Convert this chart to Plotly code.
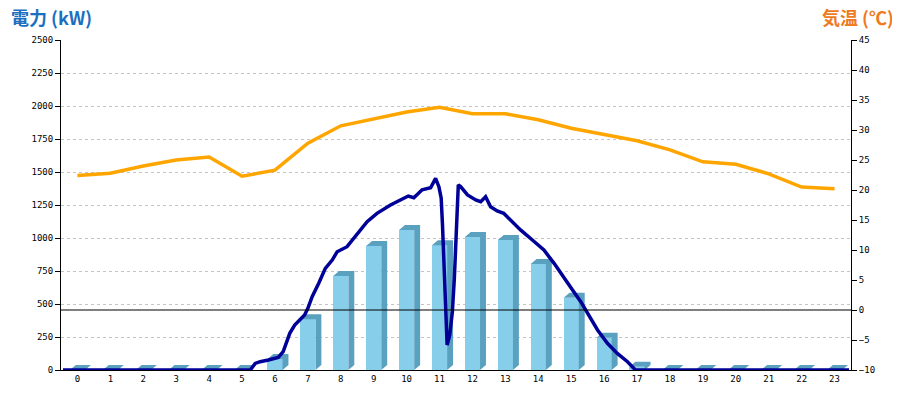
import plotly.graph_objects as go

# ---- data ----
hours = list(range(24))
hour_labels = [str(h) for h in hours]
energy_kwh = [0, 0, 0, 0, 0, 0, 83, 385, 712, 939, 1061, 945,
              1007, 985, 803, 548, 245, 25, 0, 0, 0, 0, 0, 0]
temp_c = [22.4, 22.8, 24.0, 25.0, 25.5, 22.3, 23.3, 27.8, 30.7, 31.8, 33.0, 33.8,
          32.7, 32.7, 31.7, 30.3, 29.3, 28.2, 26.7, 24.7, 24.3, 22.7, 20.5, 20.2]
power_t = [-0.44, 5.25, 5.40, 5.55, 5.80, 6.10, 6.25, 6.35, 6.45, 6.60, 6.80, 6.90,
           7.00, 7.13, 7.33, 7.53, 7.74, 7.89, 8.19, 8.50, 8.80, 9.10, 9.51, 9.81,
           10.05, 10.22, 10.47, 10.73, 10.88, 10.98, 11.05, 11.09, 11.13, 11.16, 11.20,
           11.23, 11.31, 11.39, 11.45, 11.51, 11.54, 11.57, 11.64, 11.85, 12.10, 12.25,
           12.40, 12.55, 12.75, 12.95, 13.10, 13.46, 13.82, 14.17, 14.48, 14.78, 15.04,
           15.29, 15.54, 15.80, 16.10, 16.40, 16.71, 16.91, 16.95, 23.44]
power_kw = [0, 0, 50, 63, 76, 96, 139, 202, 278, 341, 392, 417,
            467, 556, 657, 770, 833, 896, 934, 1035, 1124, 1187, 1250, 1288,
            1318, 1305, 1365, 1381, 1452, 1389, 1301, 1098, 846, 644, 392,
            189, 265, 442, 694, 998, 1225, 1402, 1389, 1326, 1288, 1275,
            1313, 1237, 1205, 1187, 1149, 1061, 985, 909, 808, 694, 606,
            518, 417, 303, 202, 126, 63, 5, 0, 0]
x_range = [-0.5, 23.5]
zero_c = 0

# ---- 3D bar styling ----
BAR_W = 0.46   # front face width (category units)
DX = 0.18      # depth offset (category units)
DY = 38        # depth offset (kW)
FRONT = "#87CEEB"
SIDE = "#5AA0BF"

px, py = [], []
for h, v in zip(hours, energy_kwh):
    xl, xr = h - BAR_W / 2, h + BAR_W / 2
    # side face
    px += [xr, xr + DX, xr + DX, xr, xr, None]
    py += [0, DY, v + DY, v, 0, None]
    # top face
    px += [xl, xl + DX, xr + DX, xr, xl, None]
    py += [v, v + DY, v + DY, v, v, None]

fig = go.Figure()
fig.add_trace(go.Bar(x=hours, y=energy_kwh, width=BAR_W,
                     marker=dict(color=FRONT, line=dict(width=0)),
                     hoverinfo="skip"))
fig.add_trace(go.Scatter(x=px, y=py, mode="lines", fill="toself",
                         fillcolor=SIDE, line=dict(width=0, color=SIDE),
                         hoverinfo="skip"))
fig.add_trace(go.Scatter(x=x_range, y=[zero_c, zero_c], yaxis="y2", mode="lines",
                         line=dict(color="black", width=1), hoverinfo="skip"))
fig.add_trace(go.Scatter(x=hours, y=temp_c, yaxis="y2", mode="lines",
                         line=dict(color="#FFA500", width=3.5)))
fig.add_trace(go.Scatter(x=power_t, y=power_kw, mode="lines",
                         line=dict(color="#000099", width=3.5), cliponaxis=False))

tickfont = dict(family="DejaVu Sans Mono", size=9, color="black")
fig.update_layout(
    width=892, height=392,
    margin=dict(l=53, r=49, t=32, b=30),
    paper_bgcolor="white", plot_bgcolor="white",
    showlegend=False, bargap=0,
    xaxis=dict(range=x_range, tickmode="array", tickvals=hours, ticktext=hour_labels,
               showline=True, linecolor="black", linewidth=1, ticks="",
               showgrid=False, zeroline=False, tickfont=tickfont),
    yaxis=dict(range=[0, 2500], dtick=250, showline=True, linecolor="black", linewidth=1,
               ticks="outside", ticklen=5, tickcolor="black",
               showgrid=True, gridcolor="#c4c4c4", griddash="dot", gridwidth=1,
               zeroline=False, tickfont=tickfont),
    yaxis2=dict(range=[-10, 45], dtick=5, overlaying="y", side="right",
                showline=True, linecolor="black", linewidth=1,
                ticks="outside", ticklen=5, tickcolor="black",
                showgrid=False, zeroline=False, tickfont=tickfont),
    annotations=[
        dict(text="<b>電力 (kW)</b>", xref="paper", yref="paper", x=-0.066, y=1.07,
             xanchor="left", yanchor="middle", showarrow=False,
             font=dict(family="Noto Sans CJK JP", size=18, color="#1B6FC0")),
        dict(text="<b>気温 (℃)</b>", xref="paper", yref="paper", x=1.057, y=1.07,
             xanchor="right", yanchor="middle", showarrow=False,
             font=dict(family="Noto Sans CJK JP", size=18, color="#EE7A22")),
    ],
)

fig.write_html("out.html")
